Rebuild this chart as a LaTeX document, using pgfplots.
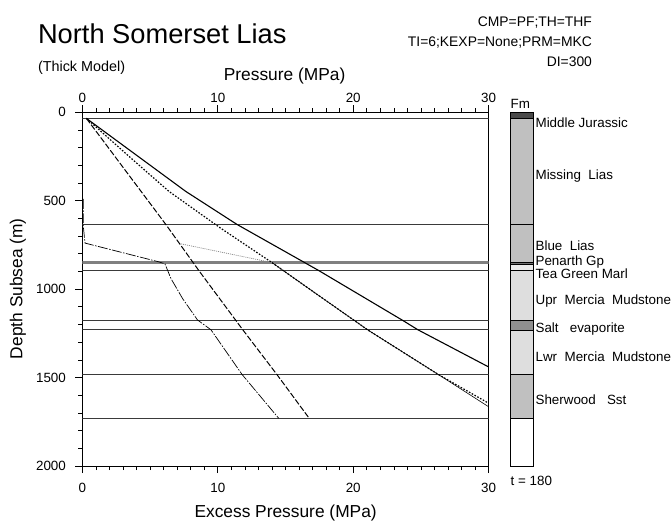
\documentclass[border=0pt]{standalone}
\usepackage{fontspec}
\setmainfont{Liberation Sans}
\usepackage{pgfplots}
\pgfplotsset{compat=1.18}
\definecolor{lay}{HTML}{3A3A3A}
\definecolor{cMJ}{HTML}{4A4A4A}
\definecolor{cML}{HTML}{C0C0C0}
\definecolor{cPG}{HTML}{707070}
\definecolor{cTG}{HTML}{EBEBEB}
\definecolor{cUM}{HTML}{DEDEDE}
\definecolor{cSE}{HTML}{8F8F8F}
\begin{document}
\begin{tikzpicture}[x=1bp,y=1bp]
\path (0,0) rectangle (671,527);
\pgfplotsset{
  every tick label/.append style={font=\fontsize{13.5}{15}\selectfont},
  /pgf/number format/assume math mode=true,
  /pgf/number format/1000 sep={},
}
% main axis
\begin{axis}[at={(82.7bp,58.7bp)}, anchor=south west, scale only axis,
  width=408.3bp, height=355.6bp,
  xmin=0, xmax=30, ymin=0, ymax=2000, y dir=reverse,
  xtick={0,10,20,30}, minor x tick num=9,
  ytick={0,500,1000,1500,2000}, minor y tick num=4,
  xtick pos=bottom, ytick pos=left, tick align=outside,
  major tick length=7bp, minor tick length=4bp,
  tick style={black, line width=0.6pt},
  axis line style={line width=0.8pt},
  xticklabel style={yshift=-7bp},
  yticklabel style={xshift=-6bp},
]
% layer boundaries
\addplot[lay, line width=0.8pt] coordinates {(0,35) (30,35)};
\addplot[lay, line width=0.8pt] coordinates {(0,635) (30,635)};
\addplot[gray, line width=1.1pt] coordinates {(0,847) (30,847)};
\addplot[gray, line width=1.1pt] coordinates {(0,857) (30,857)};
\addplot[lay, line width=0.8pt] coordinates {(0,895) (30,895)};
\addplot[lay, line width=0.8pt] coordinates {(0,1175) (30,1175)};
\addplot[lay, line width=0.8pt] coordinates {(0,1230) (30,1230)};
\addplot[lay, line width=0.8pt] coordinates {(0,1480) (30,1480)};
\addplot[lay, line width=0.8pt] coordinates {(0,1728) (30,1728)};
% solid curve
\addplot[black, line width=1.1pt] coordinates {(0.3,35) (7.64,448) (11.43,635) (17.43,894) (23.68,1178) (24.78,1230) (30,1440)};
% dotted curve
\addplot[black, line width=1.2pt, dash pattern=on 1.6bp off 1.6bp] coordinates {(0.3,35) (3.3,240) (6.4,448) (10.2,655) (14.0,850) (16.5,985) (21.1,1232) (26.25,1481) (30,1645)};
% thin line following dotted
\addplot[black, line width=0.6pt] coordinates {(14.0,850) (16.5,985) (21.1,1232) (26.25,1481) (30,1665)};
% grey dotted branch
\addplot[gray, line width=0.7pt, dash pattern=on 1bp off 1bp] coordinates {(7.15,742) (14.0,850)};
% dashed curve
\addplot[black, line width=1.0pt, dash pattern=on 6bp off 2bp] coordinates {(0.3,35) (6.17,635) (8.62,897) (11.8,1225) (14.37,1483) (16.75,1730)};
% dash-dot thin curve
\addplot[black, line width=0.7pt, dash pattern=on 10bp off 1.5bp on 1.5bp off 1.5bp] coordinates {(0.08,490) (0.08,650) (0.2,740) (5.6,845) (6.1,857) (6.55,941) (7.4,1053) (8.5,1174) (9.5,1230) (11.8,1483) (14.5,1730)};
\end{axis}
% top axis
\begin{axis}[at={(82.7bp,58.7bp)}, anchor=south west, scale only axis,
  width=408.3bp, height=355.6bp,
  xmin=0, xmax=30, ymin=0, ymax=2000,
  axis x line*=top, axis y line=none,
  xtick={0,10,20,30}, minor x tick num=9, tick align=outside,
  major tick length=7bp, minor tick length=4bp,
  tick style={black, line width=0.6pt},
  axis line style={line width=0.8pt},
  xticklabel style={yshift=-1bp},
]
\addplot[draw=none] coordinates {(0,0)};
\end{axis}
% formation column
\begin{axis}[at={(512.7bp,58.7bp)}, anchor=south west, scale only axis,
  width=23bp, height=355.6bp,
  xmin=0, xmax=1, ymin=0, ymax=2000, y dir=reverse, hide axis, clip=false]
\addplot[fill=cMJ, draw=black, line width=0.6pt] coordinates {(0,0) (1,0) (1,35) (0,35)} -- cycle;
\addplot[fill=cML, draw=black, line width=0.6pt] coordinates {(0,35) (1,35) (1,635) (0,635)} -- cycle;
\addplot[fill=cML, draw=black, line width=0.6pt] coordinates {(0,635) (1,635) (1,847) (0,847)} -- cycle;
\addplot[fill=cPG, draw=black, line width=0.6pt] coordinates {(0,847) (1,847) (1,858) (0,858)} -- cycle;
\addplot[fill=cTG, draw=black, line width=0.6pt] coordinates {(0,858) (1,858) (1,895) (0,895)} -- cycle;
\addplot[fill=cUM, draw=black, line width=0.6pt] coordinates {(0,895) (1,895) (1,1175) (0,1175)} -- cycle;
\addplot[fill=cSE, draw=black, line width=0.6pt] coordinates {(0,1175) (1,1175) (1,1230) (0,1230)} -- cycle;
\addplot[fill=cUM, draw=black, line width=0.6pt] coordinates {(0,1230) (1,1230) (1,1480) (0,1480)} -- cycle;
\addplot[fill=cML, draw=black, line width=0.6pt] coordinates {(0,1480) (1,1480) (1,1728) (0,1728)} -- cycle;
\addplot[fill=white, draw=black, line width=0.6pt] coordinates {(0,1728) (1,1728) (1,2000) (0,2000)} -- cycle;
\end{axis}
% texts
\node[anchor=base west, inner sep=0] at (38,483) {\fontsize{27.5}{31}\selectfont North Somerset Lias};
\node[anchor=base west, inner sep=0] at (38,455) {\fontsize{14.5}{17}\selectfont (Thick Model)};
\node[anchor=base east, inner sep=0] at (595,500) {\fontsize{14}{16}\selectfont CMP=PF;TH=THF};
\node[anchor=base east, inner sep=0] at (595,480) {\fontsize{14}{16}\selectfont TI=6;KEXP=None;PRM=MKC};
\node[anchor=base east, inner sep=0] at (595,460) {\fontsize{14}{16}\selectfont DI=300};
\node[inner sep=0] at (286,451) {\fontsize{17.5}{20}\selectfont Pressure (MPa)};
\node[inner sep=0] at (287,12) {\fontsize{17.5}{20}\selectfont Excess Pressure (MPa)};
\node[inner sep=0, rotate=90] at (18,237) {\fontsize{17.5}{20}\selectfont Depth Subsea (m)};
\begin{scope}[every node/.style={anchor=west, inner sep=0, font=\fontsize{13.5}{15}\selectfont}]
\node[anchor=base west] at (513,418) {Fm};
\node at (538,404) {Middle Jurassic};
\node at (538,350) {Missing\ \ Lias};
\node at (538,280) {Blue\ \ Lias};
\node[anchor=base west] at (538,260.5) {Penarth Gp};
\node[anchor=base west] at (538,247) {Tea Green Marl};
\node at (538,225) {Upr\ \ Mercia\ \ Mudstone};
\node at (538,196) {Salt\ \ \ evaporite};
\node at (538,169) {Lwr\ \ Mercia\ \ Mudstone};
\node at (538,125) {Sherwood\ \ \ Sst};
\node at (513,44) {t = 180};
\end{scope}
\end{tikzpicture}
\end{document}
